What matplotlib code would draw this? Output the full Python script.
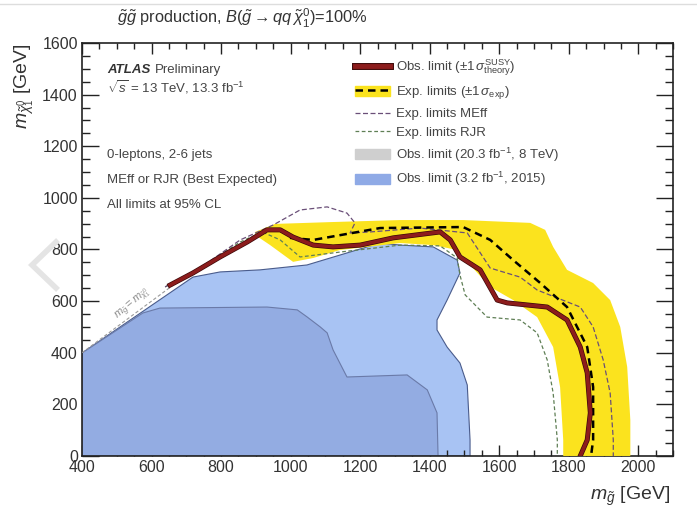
import matplotlib
matplotlib.use("Agg")
import matplotlib.pyplot as plt
import matplotlib.patheffects as pe
from matplotlib.lines import Line2D
from matplotlib.patches import Patch
from matplotlib.ticker import MultipleLocator

plt.rcParams["font.family"] = ["Liberation Sans", "DejaVu Sans"]
plt.rcParams["mathtext.fontset"] = "custom"
plt.rcParams["mathtext.rm"] = "Liberation Sans"
plt.rcParams["mathtext.it"] = "Liberation Sans:italic"
plt.rcParams["mathtext.bf"] = "Liberation Sans:bold"

# 2015 observed limit (3.2 fb-1), outer blue region
blue_x = [400, 400, 719, 797, 912, 1047, 1257, 1315, 1410, 1479, 1487, 1450,
          1421, 1421, 1450, 1487, 1508, 1516, 1516]
blue_y = [0, 399, 693, 713, 721, 740, 825, 817, 810, 759, 709, 604,
          527, 488, 422, 360, 275, 62, 0]

# 8 TeV observed limit (20.3 fb-1), inner region
run1_x = [400, 400, 575, 624, 932, 1019, 1047, 1085, 1105, 1122, 1162, 1335,
          1393, 1421, 1424]
run1_y = [0, 399, 554, 573, 577, 566, 539, 500, 477, 411, 306, 314,
          256, 167, 0]

# expected +-1 sigma band: outer edge then inner edge back
band_x = [898, 955, 1113, 1315, 1496, 1689, 1732, 1755, 1795, 1870, 1919, 1948,
          1968, 1977, 1977,
          1784, 1784, 1775, 1755, 1709, 1640, 1574, 1516, 1479, 1410, 1315,
          1142, 1065, 1007, 941, 898]
band_y = [868, 899, 906, 914, 914, 903, 876, 810, 721, 670, 604, 500,
          345, 139, 0,
          0, 62, 267, 422, 538, 604, 655, 740, 798, 817, 825,
          798, 767, 752, 817, 856]

# observed limit
obs_x = [653, 719, 797, 875, 932, 970, 1007, 1065, 1122, 1200, 1295, 1430,
         1459, 1487, 1545, 1594, 1623, 1738, 1795, 1833, 1853, 1862, 1853, 1833]
obs_y = [662, 709, 771, 829, 876, 876, 848, 817, 810, 817, 845, 868,
         837, 771, 721, 604, 593, 577, 527, 422, 322, 167, 62, 0]

# expected limit
exp_x = [998, 1065, 1257, 1496, 1574, 1640, 1718, 1795, 1853, 1870, 1870, 1864]
exp_y = [845, 837, 883, 887, 837, 759, 670, 577, 422, 267, 62, 0]

# expected limit, MEff
meff_x = [639, 739, 855, 950, 1027, 1105, 1162, 1185, 1171, 1229, 1372, 1508,
          1574, 1660, 1709, 1833, 1870, 1899, 1919, 1928, 1928]
meff_y = [655, 728, 837, 895, 953, 965, 941, 903, 864, 868, 883, 864,
          728, 693, 643, 577, 500, 372, 244, 62, 0]

# expected limit, RJR
rjr_x = [639, 739, 855, 918, 970, 1027, 1142, 1315, 1430, 1479, 1487, 1502,
         1565, 1660, 1709, 1738, 1755, 1767, 1767]
rjr_y = [655, 728, 829, 868, 837, 771, 790, 817, 814, 767, 701, 624,
         538, 527, 477, 372, 244, 62, 0]

# kinematic limit m_gluino = m_neutralino
diag_x = [400, 660]
diag_y = [400, 660]

BLUE = "#a8c3f3"
BLUE_IN = "#93ace2"
YELLOW = "#fbe31e"
RED = "#8c1c1c"

fig = plt.figure(figsize=(6.97, 5.08), dpi=100)
ax = fig.add_axes([0.1177, 0.1024, 0.848, 0.813])

ax.fill(blue_x, blue_y, color=BLUE, ec="#4a5c8c", lw=0.8, zorder=1)
ax.fill(run1_x, run1_y, color=BLUE_IN, ec="#6a7aa8", lw=0.8, zorder=2)
ax.fill(band_x, band_y, color=YELLOW, lw=0, zorder=3)
ax.plot(diag_x, diag_y, color="#9a9a9a", lw=0.8, ls=(0, (3, 2)), zorder=4)
ax.plot(rjr_x, rjr_y, color="#5f7f55", lw=0.9, ls=(0, (3, 2)), zorder=5)
ax.plot(meff_x, meff_y, color="#6a4f78", lw=0.9, ls=(0, (4, 2)), zorder=5)
ax.plot(exp_x, exp_y, color="black", lw=1.8, ls=(0, (3, 2)), zorder=6)
ax.plot(obs_x, obs_y, color=RED, lw=2.6, zorder=7,
        path_effects=[pe.Stroke(linewidth=3.6, foreground="#3c0808"), pe.Normal()])

ax.text(545, 590, r"$m_{\tilde{g}} = m_{\tilde{\chi}_1^0}$", fontsize=8,
        color="#8a8a8a", rotation=40, ha="center", va="center", zorder=4)

ax.set_xlim(400, 2100)
ax.set_ylim(0, 1600)
ax.xaxis.set_major_locator(MultipleLocator(200))
ax.xaxis.set_minor_locator(MultipleLocator(50))
ax.yaxis.set_major_locator(MultipleLocator(200))
ax.yaxis.set_minor_locator(MultipleLocator(50))
ax.tick_params(axis="both", which="both", direction="in", top=True, right=True,
               labelsize=11.5, width=1.0, color="#222222", labelcolor="#333333")
ax.tick_params(axis="x", which="major", length=8, pad=3)
ax.tick_params(axis="x", which="minor", length=4)
ax.tick_params(axis="y", which="major", length=12, pad=3)
ax.tick_params(axis="y", which="minor", length=6)
for side in ax.spines.values():
    side.set_linewidth(1.2)
    side.set_color("#222222")

ax.set_xlabel(r"$m_{\tilde{g}}$ [GeV]", fontsize=14, ha="right", color="#333333")
ax.xaxis.set_label_coords(0.995, -0.07)
ax.set_ylabel(r"$m_{\tilde{\chi}_1^0}$ [GeV]", fontsize=14, ha="right", color="#333333")
ax.yaxis.set_label_coords(-0.078, 1.0)

fig.text(0.168, 0.963,
         r"$\tilde{g}\tilde{g}$ production, $B(\tilde{g} \rightarrow qq\,\tilde{\chi}_1^0)$=100%",
         fontsize=11.8, va="center", color="#333333")

TXT = 9.5
t = ax.text(0.042, 0.935, "ATLAS", transform=ax.transAxes, fontsize=TXT,
            fontweight="bold", style="italic", va="center", color="#333333")
ax.annotate("Preliminary", xy=(1, 0.5), xycoords=t, xytext=(3, 0),
            textcoords="offset points", fontsize=TXT, va="center", color="#444444")
ax.text(0.042, 0.893, r"$\sqrt{s}$ = 13 TeV, 13.3 fb$^{-1}$",
        transform=ax.transAxes, fontsize=TXT, va="center", color="#444444")
for yy, s in [(0.729, "0-leptons, 2-6 jets"),
              (0.668, "MEff or RJR (Best Expected)"),
              (0.608, "All limits at 95% CL")]:
    ax.text(0.042, yy, s, transform=ax.transAxes, fontsize=TXT, va="center",
            color="#444444")

handles = [
    Line2D([], [], color=RED, lw=3.5,
           path_effects=[pe.Stroke(linewidth=5, foreground="#3c0808"), pe.Normal()]),
    (Patch(color=YELLOW), Line2D([], [], color="black", lw=1.8, ls=(0, (3, 2)))),
    Line2D([], [], color="#6a4f78", lw=0.9, ls=(0, (4, 2))),
    Line2D([], [], color="#5f7f55", lw=0.9, ls=(0, (3, 2))),
    Patch(color="#cfcfcf"),
    Patch(color="#8faae6"),
]
labels = [
    r"Obs. limit ($\pm1\,\sigma^{\mathrm{SUSY}}_{\mathrm{theory}}$)",
    r"Exp. limits ($\pm1\,\sigma_{\mathrm{exp}}$)",
    "Exp. limits MEff",
    "Exp. limits RJR",
    r"Obs. limit (20.3 fb$^{-1}$, 8 TeV)",
    r"Obs. limit (3.2 fb$^{-1}$, 2015)",
]
leg = ax.legend(handles, labels, loc="upper left", bbox_to_anchor=(0.462, 0.965),
                frameon=False, fontsize=TXT, handlelength=2.65, handleheight=0.8,
                labelspacing=0.48, handletextpad=0.45, borderaxespad=0, borderpad=0)
for txt in leg.get_texts():
    txt.set_color("#444444")

# faint page artefacts of the screenshot
fig.add_artist(Line2D([0.0, 1.0], [0.992, 0.992], color="#dddddd", lw=1))
fig.add_artist(Line2D([56 / 697, 32 / 697, 56 / 697],
                      [1 - 242 / 508, 1 - 265 / 508, 1 - 288 / 508],
                      color="#e4e4e4", lw=4, solid_joinstyle="miter"))

fig.savefig("out.png", dpi=100, facecolor="white")
